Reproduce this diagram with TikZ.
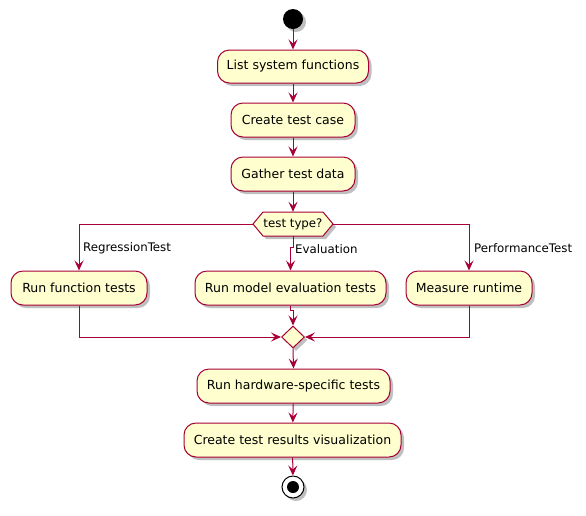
\documentclass[tikz,border=0pt]{standalone}
\usepackage{fontspec}
\setmainfont{DejaVu Sans}
\usetikzlibrary{shapes.geometric,arrows.meta,shadows}
\definecolor{pfill}{HTML}{FEFECE}
\definecolor{pline}{HTML}{A80036}
\begin{document}
\begin{tikzpicture}[x=1pt,y=-1pt,
  shad/.style={drop shadow={shadow xshift=3pt, shadow yshift=-3pt, opacity=0.25, fill=black}},
  act/.style={draw=pline, fill=pfill, line width=1pt, rounded corners=12pt, inner sep=0pt,
    font=\fontsize{12.5}{14}\selectfont, shad},
  arr/.style={draw=pline, line width=1pt, -{Stealth[length=10pt,width=9pt,inset=4pt]}},
  lab/.style={font=\fontsize{11.8}{13}\selectfont, inner sep=0pt}]
\useasboundingbox (0,0) rectangle (586,515);
\fill[white] (0,0) rectangle (586,515);

\node[circle, fill=black, minimum size=20pt, inner sep=0pt, shad] (start) at (293,19) {};
\node[act, minimum width=151pt, minimum height=33pt] (list) at (293,66.5) {List system functions};
\node[act, minimum width=124pt, minimum height=34pt] (create) at (293,120) {Create test case};
\node[act, minimum width=124pt, minimum height=34pt] (gather) at (293,174) {Gather test data};

\filldraw[draw=pline, fill=pfill, line width=1pt, shad]
  (253,224) -- (263,212) -- (323,212) -- (333,224) -- (323,236) -- (263,236) -- cycle;
\node[minimum width=80pt, minimum height=24pt, inner sep=0pt, font=\fontsize{11.8}{13}\selectfont] (q) at (293,224) {test type?};

\node[act, minimum width=136pt, minimum height=34pt] (rft) at (79,288) {Run function tests};
\node[act, minimum width=191pt, minimum height=34pt] (eval) at (290.5,288) {Run model evaluation tests};
\node[act, minimum width=126pt, minimum height=34pt] (meas) at (469,288) {Measure runtime};

\node[diamond, draw=pline, fill=pfill, line width=1pt, minimum width=23pt, minimum height=22pt, inner sep=0pt, shad] (m) at (293,337) {};

\node[act, minimum width=193pt, minimum height=34pt] (hw) at (293.5,386) {Run hardware-specific tests};
\node[act, minimum width=217pt, minimum height=34pt] (vis) at (292.5,440) {Create test results visualization};

\node[circle, draw=black, fill=white, line width=1pt, minimum size=22pt, inner sep=0pt, shad] (end) at (293,487) {};
\node[circle, fill=black, minimum size=12pt, inner sep=0pt] (endin) at (293,487) {};

\draw[arr] (start) -- (list);
\draw[arr] (list) -- (create);
\draw[arr] (create) -- (gather);
\draw[arr] (gather) -- (q.north);
\draw[arr] (q.west) -| (rft.north);
\draw[arr] (q.south) -- ++(0,11) -| (eval.north);
\draw[arr] (q.east) -| (meas.north);
\node[lab, anchor=west] (lreg) at (83,248) {RegressionTest};
\node[lab, anchor=west] (leval) at (295,249) {Evaluation};
\node[lab, anchor=west] (lperf) at (474,248) {PerformanceTest};

\draw[arr] (rft.south) |- (m.west);
\draw[arr] (eval.south) -- ++(0,5) -| (m.north);
\draw[arr] (meas.south) |- (m.east);
\draw[arr] (m.south) -- (hw.north);
\draw[arr] (hw) -- (vis);
\draw[arr] (vis) -- (end);
\end{tikzpicture}
\end{document}
